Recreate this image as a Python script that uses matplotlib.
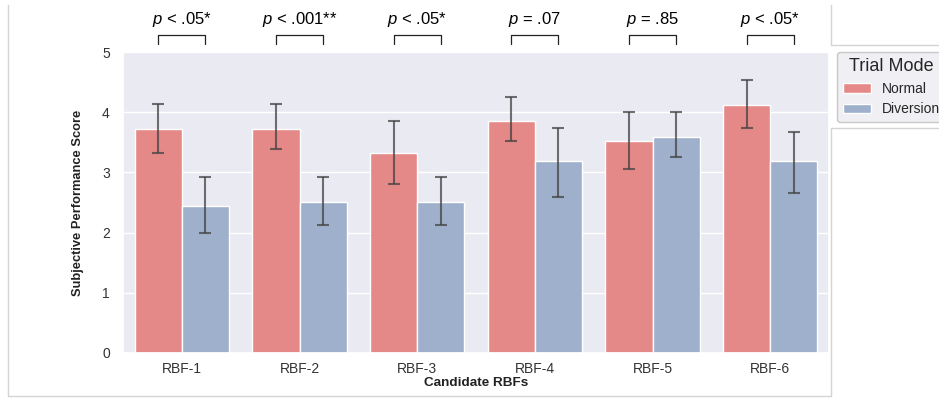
import matplotlib
matplotlib.use('Agg')
import matplotlib.pyplot as plt
import seaborn as sns
import numpy as np
from matplotlib.lines import Line2D

# data
categories = ['RBF-1', 'RBF-2', 'RBF-3', 'RBF-4', 'RBF-5', 'RBF-6']
normal_mean = [3.72, 3.72, 3.32, 3.85, 3.52, 4.12]
normal_low = [3.32, 3.39, 2.80, 3.52, 3.06, 3.73]
normal_high = [4.13, 4.13, 3.86, 4.26, 4.00, 4.53]
diversion_mean = [2.45, 2.51, 2.51, 3.19, 3.59, 3.19]
diversion_low = [1.99, 2.13, 2.13, 2.59, 3.26, 2.65]
diversion_high = [2.93, 2.93, 2.93, 3.73, 4.00, 3.67]
p_labels = [r'$p$ < .05*', r'$p$ < .001**', r'$p$ < .05*', r'$p$ = .07', r'$p$ = .85', r'$p$ < .05*']

sns.set_theme(style='darkgrid')
plt.rcParams['font.family'] = ['Liberation Sans', 'DejaVu Sans']
plt.rcParams['mathtext.fontset'] = 'custom'
plt.rcParams['mathtext.it'] = 'Liberation Sans:italic'
plt.rcParams['mathtext.rm'] = 'Liberation Sans'

fig = plt.figure(figsize=(9.39, 4), dpi=100)
ax = fig.add_axes([123 / 939, 47 / 400, 706 / 939, 301 / 400])

x = np.arange(len(categories))
w = 0.4
red = '#e58988'
blue = '#9fb0cc'

def errs(mean, low, high):
    mean = np.array(mean)
    return [mean - np.array(low), np.array(high) - mean]

ekw = dict(ecolor='#424242', elinewidth=1.5, capsize=4.5, capthick=1.5, alpha=0.75)
ax.bar(x - w / 2, normal_mean, w, color=red, edgecolor='white', linewidth=1,
       yerr=errs(normal_mean, normal_low, normal_high), error_kw=ekw, label='Normal')
ax.bar(x + w / 2, diversion_mean, w, color=blue, edgecolor='white', linewidth=1,
       yerr=errs(diversion_mean, diversion_low, diversion_high), error_kw=ekw, label='Diversion')

ax.set_xlim(-0.5, len(categories) - 0.5)
ax.set_ylim(0, 5)
ax.grid(False, axis='x')
ax.set_xticks(x)
ax.set_xticklabels(categories, fontsize=10, color='#333333')
ax.tick_params(axis='x', pad=0.5)
ax.tick_params(axis='y', labelsize=10, labelcolor='#333333')
ax.set_ylabel('Subjective Performance Score', fontsize=9.3, fontweight='bold', color='#222222', labelpad=13)
ax.set_xlabel('Candidate RBFs', fontsize=9.7, fontweight='bold', color='#222222', labelpad=1)

# significance brackets above the axes
for i, lab in enumerate(p_labels):
    ax.plot([i - 0.2, i - 0.2, i + 0.2, i + 0.2], [5.14, 5.28, 5.28, 5.14],
            color='#222222', linewidth=0.9, clip_on=False)
    ax.text(i, 5.38, lab, ha='center', va='bottom', fontsize=12, color='black', clip_on=False)

leg = ax.legend(title='Trial Mode', loc='upper left', bbox_to_anchor=(1.012, 1.0),
                fontsize=10, title_fontsize=13, frameon=True, borderaxespad=0)
leg.get_frame().set_facecolor('#f0f0f4')
leg.get_frame().set_edgecolor('#c8c8c8')
leg.get_frame().set_alpha(1)

# screenshot frame lines
gc = '#d4d4d4'
fig.add_artist(Line2D([8 / 939, 8 / 939], [1 - 5 / 400, 1 - 396 / 400], color=gc, lw=1))
fig.add_artist(Line2D([8 / 939, 831 / 939], [1 - 396 / 400, 1 - 396 / 400], color=gc, lw=1))
fig.add_artist(Line2D([831 / 939, 831 / 939], [1 - 128 / 400, 1 - 396 / 400], color=gc, lw=1))
fig.add_artist(Line2D([831 / 939, 831 / 939], [1 - 5 / 400, 1 - 45 / 400], color=gc, lw=1))
fig.add_artist(Line2D([831 / 939, 1], [1 - 45 / 400, 1 - 45 / 400], color=gc, lw=1))
fig.add_artist(Line2D([831 / 939, 1], [1 - 128 / 400, 1 - 128 / 400], color=gc, lw=1))

fig.savefig('out.png', dpi=100)
